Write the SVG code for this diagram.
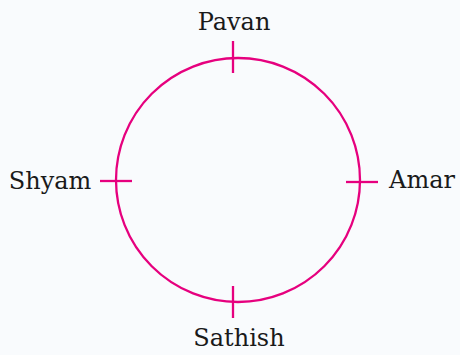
<svg xmlns="http://www.w3.org/2000/svg" width="460" height="355" viewBox="0 0 460 355">
<style>
.c{fill:none;stroke:#e6007e;stroke-width:2.3}
.t{font-family:"DejaVu Serif","Liberation Serif",serif;font-size:24px;fill:#1a1a1a;text-anchor:middle}
</style>
<rect width="460" height="355" fill="#f9fbfd"/>
<g id="circle"><circle class="c" cx="238" cy="180" r="122"/></g>
<g id="connectors">
<line class="c" x1="233" y1="41" x2="233" y2="73"/>
<line class="c" x1="100" y1="181" x2="132" y2="181"/>
<line class="c" x1="346" y1="182" x2="378" y2="182"/>
<line class="c" x1="233" y1="286" x2="233" y2="318"/>
</g>
<g id="pavan"><text class="t" x="234" y="30">Pavan</text></g>
<g id="shyam"><text class="t" x="50" y="189">Shyam</text></g>
<g id="amar"><text class="t" x="422" y="188">Amar</text></g>
<g id="sathish"><text class="t" x="239" y="346">Sathish</text></g>
</svg>
